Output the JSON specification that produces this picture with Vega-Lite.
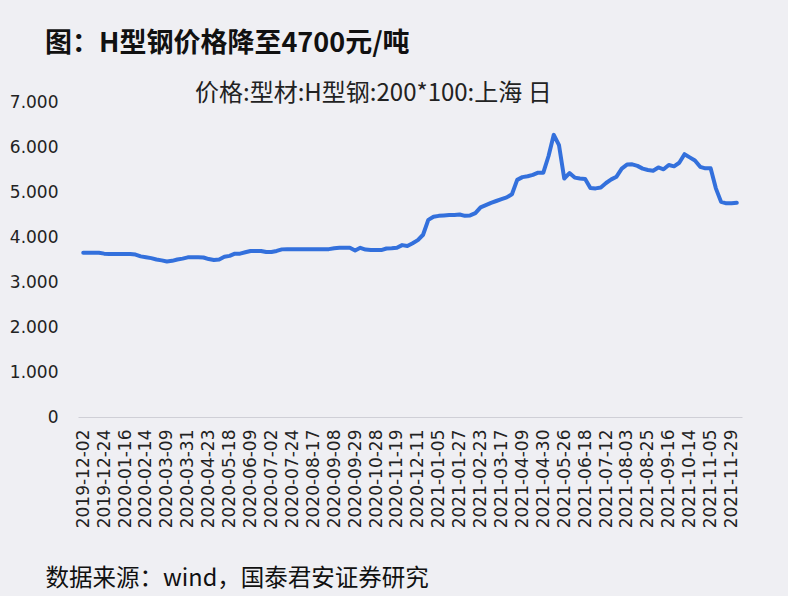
{
"$schema": "https://vega.github.io/schema/vega-lite/v6.json",
"width": 664, "height": 315,
"autosize": {"type": "none"},
"padding": {"left": 78, "top": 102, "right": 46, "bottom": 179},
"background": "#efeff3",
"config": {"view": {"stroke": null}, "font": "Noto Sans CJK SC"},
"title": {"text": "图：H型钢价格降至4700元/吨", "anchor": "start", "frame": "group", "dx": -33, "offset": 24, "fontSize": 27, "fontWeight": "bold", "font": "Noto Sans CJK SC", "color": "#111111"},
"data": {"values": [
{"date":"2019-12-02","price":3651},{"date":"2019-12-06","price":3651},{"date":"2019-12-12","price":3651},{"date":"2019-12-18","price":3651},
{"date":"2019-12-24","price":3630},{"date":"2019-12-30","price":3620},{"date":"2020-01-06","price":3620},{"date":"2020-01-10","price":3620},
{"date":"2020-01-16","price":3620},{"date":"2020-01-22","price":3620},{"date":"2020-02-04","price":3610},{"date":"2020-02-10","price":3570},
{"date":"2020-02-14","price":3550},{"date":"2020-02-20","price":3530},{"date":"2020-02-26","price":3500},{"date":"2020-03-03","price":3480},
{"date":"2020-03-09","price":3455},{"date":"2020-03-13","price":3470},{"date":"2020-03-19","price":3500},{"date":"2020-03-25","price":3520},
{"date":"2020-03-31","price":3548},{"date":"2020-04-08","price":3550},{"date":"2020-04-14","price":3550},{"date":"2020-04-17","price":3545},
{"date":"2020-04-23","price":3510},{"date":"2020-04-29","price":3490},{"date":"2020-05-08","price":3500},{"date":"2020-05-14","price":3560},
{"date":"2020-05-18","price":3580},{"date":"2020-05-22","price":3630},{"date":"2020-05-28","price":3630},{"date":"2020-06-03","price":3660},
{"date":"2020-06-09","price":3690},{"date":"2020-06-15","price":3690},{"date":"2020-06-19","price":3690},{"date":"2020-06-29","price":3665},
{"date":"2020-07-02","price":3665},{"date":"2020-07-08","price":3690},{"date":"2020-07-14","price":3725},{"date":"2020-07-20","price":3730},
{"date":"2020-07-24","price":3730},{"date":"2020-07-30","price":3730},{"date":"2020-08-05","price":3730},{"date":"2020-08-11","price":3730},
{"date":"2020-08-17","price":3730},{"date":"2020-08-21","price":3730},{"date":"2020-08-27","price":3730},{"date":"2020-09-02","price":3730},
{"date":"2020-09-08","price":3750},{"date":"2020-09-14","price":3760},{"date":"2020-09-18","price":3760},{"date":"2020-09-24","price":3760},
{"date":"2020-09-29","price":3700},{"date":"2020-10-12","price":3760},{"date":"2020-10-16","price":3720},{"date":"2020-10-22","price":3710},
{"date":"2020-10-28","price":3710},{"date":"2020-11-03","price":3710},{"date":"2020-11-09","price":3745},{"date":"2020-11-13","price":3750},
{"date":"2020-11-19","price":3760},{"date":"2020-11-25","price":3820},{"date":"2020-12-01","price":3800},{"date":"2020-12-07","price":3860},
{"date":"2020-12-11","price":3930},{"date":"2020-12-17","price":4050},{"date":"2020-12-23","price":4380},{"date":"2020-12-29","price":4450},
{"date":"2021-01-05","price":4470},{"date":"2021-01-11","price":4480},{"date":"2021-01-15","price":4490},{"date":"2021-01-21","price":4490},
{"date":"2021-01-27","price":4500},{"date":"2021-02-02","price":4470},{"date":"2021-02-08","price":4480},{"date":"2021-02-18","price":4530},
{"date":"2021-02-23","price":4660},{"date":"2021-03-01","price":4710},{"date":"2021-03-05","price":4760},{"date":"2021-03-11","price":4800},
{"date":"2021-03-17","price":4840},{"date":"2021-03-23","price":4880},{"date":"2021-03-29","price":4950},{"date":"2021-04-02","price":5270},
{"date":"2021-04-09","price":5330},{"date":"2021-04-15","price":5350},{"date":"2021-04-21","price":5380},{"date":"2021-04-27","price":5430},
{"date":"2021-04-30","price":5430},{"date":"2021-05-11","price":5800},{"date":"2021-05-17","price":6270},{"date":"2021-05-21","price":6040},
{"date":"2021-05-26","price":5300},{"date":"2021-06-01","price":5420},{"date":"2021-06-07","price":5320},{"date":"2021-06-11","price":5300},
{"date":"2021-06-18","price":5290},{"date":"2021-06-24","price":5090},{"date":"2021-06-30","price":5080},{"date":"2021-07-06","price":5100},
{"date":"2021-07-12","price":5200},{"date":"2021-07-16","price":5280},{"date":"2021-07-22","price":5340},{"date":"2021-07-28","price":5520},
{"date":"2021-08-03","price":5610},{"date":"2021-08-09","price":5615},{"date":"2021-08-13","price":5580},{"date":"2021-08-19","price":5520},
{"date":"2021-08-25","price":5490},{"date":"2021-08-31","price":5474},{"date":"2021-09-06","price":5545},{"date":"2021-09-10","price":5504},
{"date":"2021-09-16","price":5600},{"date":"2021-09-24","price":5570},{"date":"2021-09-30","price":5650},{"date":"2021-10-11","price":5840},
{"date":"2021-10-14","price":5770},{"date":"2021-10-20","price":5700},{"date":"2021-10-26","price":5560},{"date":"2021-11-01","price":5526},
{"date":"2021-11-05","price":5526},{"date":"2021-11-11","price":5081},{"date":"2021-11-17","price":4780},{"date":"2021-11-23","price":4748},
{"date":"2021-11-29","price":4748},{"date":"2021-12-03","price":4760}
]},
"mark": {"type": "line", "strokeWidth": 4, "strokeJoin": "round", "strokeCap": "round"},
"encoding": {
  "x": {"field": "date", "type": "ordinal", "scale": {"type": "point", "padding": 1.04},
    "axis": {"values": ["2019-12-02","2019-12-24","2020-01-16","2020-02-14","2020-03-09","2020-03-31","2020-04-23","2020-05-18","2020-06-09","2020-07-02","2020-07-24","2020-08-17","2020-09-08","2020-09-29","2020-10-28","2020-11-19","2020-12-11","2021-01-05","2021-01-27","2021-02-23","2021-03-17","2021-04-09","2021-04-30","2021-05-26","2021-06-18","2021-07-12","2021-08-03","2021-08-25","2021-09-16","2021-10-14","2021-11-05","2021-11-29"],
      "labelAngle": -90, "ticks": false, "domainColor": "#cfcfd6", "domainWidth": 1,
      "labelFont": "DejaVu Sans", "labelFontSize": 17, "labelColor": "#222222", "labelPadding": 12,
      "title": "数据来源：wind，国泰君安证券研究", "titleX": -33, "titleY": 161, "titleAlign": "left", "titleBaseline": "middle", "titleAngle": 0,
      "titleFont": "Noto Sans CJK SC", "titleFontSize": 23.5, "titleFontWeight": "normal", "titleColor": "#111111"}},
  "y": {"field": "price", "type": "quantitative", "scale": {"domain": [0, 7000]},
    "axis": {"values": [0,1000,2000,3000,4000,5000,6000,7000], "grid": false, "domain": false, "ticks": false, "labelPadding": 20,
      "labelExpr": "replace(format(datum.value, ','), ',', '.')", "labelFont": "DejaVu Sans", "labelFontSize": 17, "labelColor": "#222222", "title": null}},
  "color": {"datum": "价格:型材:H型钢:200*100:上海 日", "scale": {"range": ["#3370dc"]},
    "legend": {"orient": "none", "legendX": 89, "legendY": -20, "title": null, "symbolOpacity": 0, "symbolSize": 0, "symbolStrokeWidth": 0,
      "labelFontSize": 24, "labelFont": "Noto Sans CJK SC", "labelColor": "#222222", "labelLimit": 0}}
}
}
